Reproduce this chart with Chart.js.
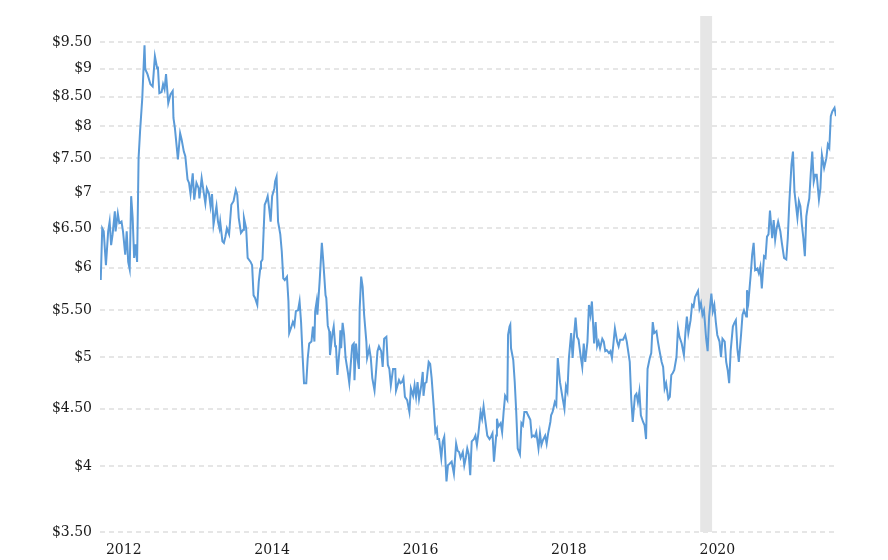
<!DOCTYPE html>
<html>
<head>
<meta charset="utf-8">
<script src="https://cdn.jsdelivr.net/npm/chart.js@4"></script>
<style>
  body{margin:0;background:#fff}
  #wrap{width:888px;height:560px}
</style>
</head>
<body>
<div id="wrap"><canvas id="myChart" width="888" height="560"></canvas></div>
<script>
// weekly price, x as fractional year
const dates=[
2011.69,2011.71,2011.73,2011.76,2011.79,2011.81,2011.83,2011.85,2011.88,2011.89,
2011.92,2011.94,2011.97,2011.99,2012.02,2012.04,2012.06,2012.08,2012.10,2012.12,
2012.14,2012.16,2012.18,2012.20,2012.22,2012.25,2012.28,2012.29,2012.32,2012.36,
2012.39,2012.42,2012.45,2012.46,2012.48,2012.51,2012.53,2012.55,2012.57,2012.60,
2012.63,2012.66,2012.67,2012.69,2012.73,2012.76,2012.78,2012.81,2012.83,2012.86,
2012.88,2012.90,2012.93,2012.95,2012.98,2013.01,2013.02,2013.05,2013.08,2013.10,
2013.12,2013.15,2013.17,2013.19,2013.21,2013.25,2013.27,2013.29,2013.30,2013.33,
2013.35,2013.37,2013.39,2013.42,2013.45,2013.48,2013.51,2013.53,2013.55,2013.58,
2013.61,2013.62,2013.65,2013.67,2013.71,2013.73,2013.75,2013.77,2013.80,2013.82,
2013.84,2013.85,2013.87,2013.90,2013.92,2013.94,2013.96,2013.98,2014.00,2014.03,
2014.04,2014.06,2014.08,2014.11,2014.13,2014.15,2014.17,2014.20,2014.22,2014.23,
2014.26,2014.28,2014.30,2014.32,2014.35,2014.37,2014.39,2014.41,2014.43,2014.46,
2014.48,2014.50,2014.53,2014.55,2014.57,2014.58,2014.60,2014.61,2014.64,2014.67,
2014.69,2014.72,2014.73,2014.75,2014.77,2014.78,2014.81,2014.83,2014.85,2014.86,
2014.88,2014.91,2014.92,2014.93,2014.95,2014.97,2014.99,2015.02,2015.04,2015.06,
2015.08,2015.10,2015.11,2015.13,2015.15,2015.17,2015.18,2015.20,2015.22,2015.24,
2015.27,2015.28,2015.31,2015.33,2015.35,2015.38,2015.40,2015.42,2015.44,2015.47,
2015.49,2015.51,2015.54,2015.56,2015.58,2015.60,2015.63,2015.66,2015.67,2015.71,
2015.73,2015.75,2015.77,2015.79,2015.82,2015.85,2015.87,2015.90,2015.92,2015.94,
2015.96,2015.98,2016.01,2016.03,2016.04,2016.06,2016.08,2016.11,2016.13,2016.15,
2016.18,2016.20,2016.22,2016.23,2016.25,2016.28,2016.30,2016.32,2016.35,2016.37,
2016.39,2016.42,2016.45,2016.48,2016.50,2016.52,2016.54,2016.57,2016.59,2016.61,
2016.63,2016.65,2016.67,2016.69,2016.72,2016.74,2016.76,2016.78,2016.81,2016.83,
2016.85,2016.87,2016.90,2016.93,2016.95,2016.97,2016.99,2017.02,2017.03,2017.05,
2017.08,2017.10,2017.12,2017.14,2017.17,2017.18,2017.20,2017.21,2017.22,2017.25,
2017.27,2017.29,2017.31,2017.34,2017.36,2017.38,2017.40,2017.43,2017.45,2017.48,
2017.50,2017.52,2017.54,2017.56,2017.59,2017.61,2017.63,2017.65,2017.68,2017.70,
2017.72,2017.75,2017.76,2017.78,2017.81,2017.83,2017.85,2017.88,2017.91,2017.94,
2017.96,2017.98,2018.00,2018.03,2018.05,2018.07,2018.09,2018.11,2018.13,2018.16,
2018.18,2018.20,2018.22,2018.25,2018.27,2018.29,2018.31,2018.34,2018.36,2018.38,
2018.40,2018.42,2018.45,2018.47,2018.49,2018.51,2018.54,2018.56,2018.58,2018.60,
2018.62,2018.65,2018.67,2018.69,2018.73,2018.76,2018.78,2018.82,2018.84,2018.86,
2018.89,2018.91,2018.93,2018.95,2018.97,2019.00,2019.02,2019.04,2019.06,2019.09,
2019.11,2019.13,2019.15,2019.18,2019.20,2019.22,2019.25,2019.27,2019.29,2019.31,
2019.34,2019.36,2019.38,2019.40,2019.42,2019.45,2019.47,2019.49,2019.52,2019.55,
2019.57,2019.59,2019.61,2019.64,2019.66,2019.68,2019.70,2019.74,2019.76,2019.78,
2019.80,2019.82,2019.85,2019.87,2019.89,2019.92,2019.94,2019.96,2019.98,2020.00,
2020.03,2020.05,2020.07,2020.10,2020.12,2020.14,2020.16,2020.18,2020.21,2020.23,
2020.25,2020.27,2020.29,2020.32,2020.34,2020.36,2020.39,2020.40,2020.42,2020.45,
2020.47,2020.49,2020.51,2020.54,2020.56,2020.58,2020.60,2020.63,2020.65,2020.67,
2020.69,2020.71,2020.74,2020.76,2020.78,2020.80,2020.82,2020.85,2020.87,2020.90,
2020.93,2020.95,2020.97,2021.00,2021.02,2021.04,2021.07,2021.08,2021.10,2021.12,
2021.14,2021.16,2021.18,2021.20,2021.22,2021.24,2021.26,2021.28,2021.30,2021.32,
2021.34,2021.37,2021.39,2021.41,2021.44,2021.47,2021.49,2021.51,2021.53,2021.55,2021.58,2021.60
];
const prices=[
5.85,6.50,6.46,6.03,6.46,6.59,6.28,6.42,6.73,6.46,
6.70,6.57,6.59,6.46,6.16,6.46,6.07,5.98,6.94,6.64,
6.12,6.29,6.07,7.50,7.92,8.48,9.44,8.99,8.90,8.72,
8.68,9.23,9.01,9.04,8.56,8.58,8.72,8.63,8.90,8.39,
8.54,8.60,8.14,7.97,7.48,7.89,7.79,7.60,7.53,7.18,
7.13,6.97,7.27,6.89,7.13,7.05,6.91,7.20,6.98,6.84,
7.05,6.97,6.80,6.97,6.55,6.80,6.59,6.50,6.59,6.33,
6.31,6.39,6.50,6.42,6.82,6.87,7.03,6.96,6.64,6.44,
6.48,6.64,6.50,6.12,6.07,6.03,5.67,5.64,5.56,5.83,
5.99,6.07,6.10,6.82,6.87,6.94,6.77,6.59,6.94,7.05,
7.15,7.22,6.59,6.42,6.20,5.87,5.85,5.89,5.60,5.25,
5.32,5.37,5.33,5.49,5.50,5.60,5.37,5.02,4.74,4.74,
4.99,5.14,5.16,5.32,5.16,5.49,5.60,5.45,5.83,6.31,
6.07,5.67,5.64,5.33,5.27,5.02,5.23,5.32,5.11,5.12,
4.82,5.09,5.28,5.09,5.36,5.23,4.99,4.85,4.74,4.93,
5.12,5.14,4.77,5.14,4.99,4.88,5.52,5.89,5.77,5.45,
5.16,4.99,5.09,4.99,4.79,4.67,4.85,5.06,5.11,5.06,
4.90,5.19,5.21,4.92,4.88,4.72,4.88,4.88,4.67,4.77,
4.74,4.75,4.79,4.61,4.58,4.47,4.69,4.62,4.72,4.61,
4.75,4.59,4.72,4.85,4.62,4.74,4.75,4.95,4.93,4.79,
4.50,4.29,4.32,4.23,4.23,4.07,4.21,4.25,3.88,4.01,
4.02,4.04,3.94,4.19,4.13,4.12,4.07,4.12,4.01,4.07,
4.15,4.10,3.93,4.21,4.23,4.26,4.18,4.28,4.47,4.41,
4.52,4.41,4.26,4.23,4.25,4.28,4.04,4.26,4.41,4.34,
4.37,4.29,4.47,4.62,4.58,5.23,5.32,5.34,5.09,4.97,
4.75,4.47,4.15,4.10,4.37,4.35,4.47,4.47,4.44,4.40,
4.25,4.26,4.25,4.29,4.15,4.28,4.18,4.22,4.26,4.19,
4.28,4.38,4.44,4.47,4.56,4.53,4.99,4.75,4.62,4.50,
4.71,4.66,4.99,5.25,4.99,5.23,5.42,5.21,5.18,5.00,
4.90,5.14,4.95,5.16,5.56,5.45,5.60,5.14,5.37,5.11,
5.16,5.09,5.19,5.16,5.06,5.07,5.04,5.06,4.99,5.14,
5.30,5.16,5.11,5.18,5.18,5.23,5.16,4.95,4.59,4.38,
4.62,4.64,4.56,4.66,4.44,4.38,4.35,4.23,4.88,4.99,
5.04,5.37,5.25,5.27,5.16,5.07,4.95,4.90,4.69,4.74,
4.59,4.61,4.82,4.84,4.87,5.00,5.30,5.21,5.14,5.02,
5.25,5.43,5.25,5.39,5.56,5.54,5.65,5.72,5.52,5.58,
5.45,5.50,5.19,5.06,5.43,5.69,5.49,5.56,5.37,5.23,
5.16,5.00,5.19,5.16,4.95,4.87,4.74,5.06,5.32,5.36,
5.39,5.09,4.95,5.23,5.45,5.50,5.43,5.73,5.60,5.91,
6.16,6.31,5.97,5.99,5.93,6.01,5.75,6.14,6.12,6.39,
6.42,6.74,6.37,6.61,6.35,6.50,6.59,6.46,6.31,6.12,
6.10,6.37,6.84,7.40,7.60,7.01,6.73,6.64,6.87,6.80,
6.55,6.37,6.14,6.66,6.80,6.91,7.27,7.60,7.15,7.25,
7.25,6.89,7.05,7.55,7.35,7.50,7.71,7.66,8.17,8.25,8.31,8.17
];
const yTicks=[3.5,4,4.5,5,5.5,6,6.5,7,7.5,8,8.5,9,9.5];
const xTicks=[2012,2014,2016,2018,2020];
const recession=[2019.77,2019.93];

Chart.defaults.font.family="'DejaVu Serif', serif";
Chart.defaults.font.size=14;
Chart.defaults.color='#1a1a1a';

// grey shaded recession band
const bandPlugin={
  id:'band',
  beforeDatasetsDraw(chart){
    const {ctx,chartArea,scales}=chart;
    const x1=scales.x.getPixelForValue(recession[0]);
    const x2=scales.x.getPixelForValue(recession[1]);
    ctx.save();
    ctx.fillStyle='#e6e6e6';
    ctx.fillRect(x1,chartArea.top-1,x2-x1,chartArea.bottom-chartArea.top+1);
    ctx.restore();
  }
};

function money(v){
  return Number.isInteger(v) ? '$'+v : '$'+v.toFixed(2);
}

window.addEventListener('load',()=>{
  const ctx=document.getElementById('myChart').getContext('2d');
  new Chart(ctx,{
    type:'line',
    data:{
      datasets:[{
        data:dates.map((d,i)=>({x:d,y:prices[i]})),
        borderColor:'#5b9bd8',
        borderWidth:2,
        pointRadius:0,
        tension:0,
        fill:false
      }]
    },
    options:{
      responsive:false,
      animation:false,
      devicePixelRatio:1,
      layout:{padding:{top:17,right:52,left:0,bottom:0}},
      plugins:{legend:{display:false},tooltip:{enabled:false}},
      scales:{
        x:{
          type:'linear',
          min:2011.68,
          max:2021.6,
          afterBuildTicks:s=>{s.ticks=xTicks.map(v=>({value:v}));},
          afterFit:s=>{s.height=28;},
          ticks:{callback:v=>String(v),padding:10,maxRotation:0},
          grid:{display:false,drawTicks:false},
          border:{display:false}
        },
        y:{
          type:'logarithmic',
          min:3.5,
          max:10,
          afterBuildTicks:s=>{s.ticks=yTicks.map(v=>({value:v}));},
          afterFit:s=>{s.width=100;},
          ticks:{callback:v=>money(v),padding:8},
          grid:{color:'#e6e6e6',lineWidth:2,drawTicks:false},
          border:{display:false,dash:[5,4]}
        }
      }
    },
    plugins:[bandPlugin]
  });
});
</script>
</body>
</html>
